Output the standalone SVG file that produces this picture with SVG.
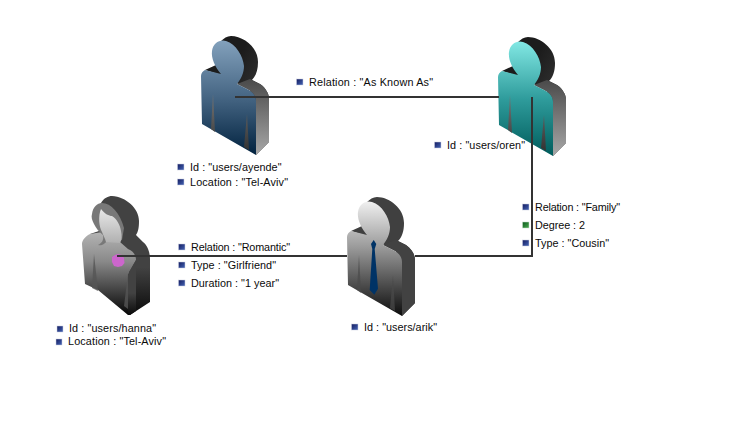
<svg xmlns="http://www.w3.org/2000/svg" width="746" height="446" viewBox="0 0 746 446">
<style>
text{font-family:"Liberation Sans",Arial,sans-serif;font-size:10.8px;fill:#0a0a0a}
.conn{fill:none;stroke:#333;stroke-width:2}
.b{fill:url(#gBlue);stroke:#c9cde0;stroke-width:.5}
.g{fill:url(#gGreen);stroke:#c9e0cd;stroke-width:.5}
</style>
<defs>
<linearGradient id="gBlue" x1="0" y1="0" x2="1" y2="1"><stop offset="0" stop-color="#141c60"/><stop offset="1" stop-color="#4464b4"/></linearGradient>
<linearGradient id="gGreen" x1="0" y1="0" x2="1" y2="1"><stop offset="0" stop-color="#0c5a1c"/><stop offset="1" stop-color="#4aa850"/></linearGradient>
<linearGradient id="gSide" x1="0" y1="0" x2="0" y2="1"><stop offset="0" stop-color="#4a4a4a"/><stop offset=".3" stop-color="#666"/><stop offset="1" stop-color="#a8a8a8"/></linearGradient>
<linearGradient id="gBack" x1="0" y1="0" x2="1" y2="1"><stop offset=".35" stop-color="#1c1c1c"/><stop offset="1" stop-color="#4a4a4a"/></linearGradient>
<linearGradient id="gSlit" x1="0" y1="0" x2="0" y2="1"><stop offset="0" stop-color="#777"/><stop offset="1" stop-color="#333"/></linearGradient>
<linearGradient id="gAyende" x1="0" y1="0" x2="0" y2="1"><stop offset="0" stop-color="#83a1bc"/><stop offset=".5" stop-color="#456583"/><stop offset="1" stop-color="#01223f"/></linearGradient>
<linearGradient id="gOren" x1="0" y1="0" x2="0" y2="1"><stop offset="0" stop-color="#82e8e4"/><stop offset=".5" stop-color="#2f9c9c"/><stop offset="1" stop-color="#005c5c"/></linearGradient>
<linearGradient id="gArik" x1="0" y1="0" x2="0" y2="1"><stop offset="0" stop-color="#f0f0f0"/><stop offset=".4" stop-color="#9a9a9a"/><stop offset="1" stop-color="#0c0c0c"/></linearGradient>
<linearGradient id="gHanna" x1="0" y1="0" x2="0" y2="1"><stop offset="0" stop-color="#b4b4b4"/><stop offset=".35" stop-color="#8a8a8a"/><stop offset="1" stop-color="#050505"/></linearGradient>
<linearGradient id="gFace" x1="0" y1="0" x2="0" y2="1"><stop offset="0" stop-color="#e8e8e8"/><stop offset="1" stop-color="#b0b0b0"/></linearGradient>
<linearGradient id="gHSide" x1="0" y1="0" x2="0" y2="1"><stop offset=".6" stop-color="#424242"/><stop offset="1" stop-color="#0a0a0a"/></linearGradient>
<path id="pBack" d="M205,70 L216,65 L222,68 L213,52 L220,42 C224,38 227,36 231,36 C243,36 258,47 258,62 C258,70 256,76 252,80 L260,84 C266,88 269,94 269,99 L269,142 L256,155 L250,90 L221,75Z"/>
<path id="pSide" d="M237,84 L250,79 L260,84 C266,88 269,94 269,99 L269,142 L256,155 L256,101 C256,96 253,92 247,89Z"/>
<path id="pFront" d="M201,76 C201,73 203,71 205,70 L221,74 C215,67 211,58 212,51 C213,43 220,39 226,41 C236,44 243,56 244,66 C244,73 241,79 237,84 L247,89 C253,92 256,96 256,101 L256,155 L202,124Z"/>
<path id="pSlits" d="M213,94 L211,129 L215,132Z M247,114 L244,147 L249,150Z"/>
</defs>

<g id="node-ayende">
<use href="#pBack" fill="url(#gBack)"/>
<use href="#pSide" fill="url(#gSide)"/>
<use href="#pFront" fill="url(#gAyende)"/>
<use href="#pSlits" fill="url(#gSlit)"/>
<rect class="b" x="177.500" y="164" width="6.500" height="6"/><text x="190" y="171" textLength="91.500">Id : "users/ayende"</text>
<rect class="b" x="177.500" y="179" width="6.500" height="6"/><text x="190" y="186" textLength="98">Location : "Tel-Aviv"</text>
</g>

<g id="node-oren">
<g transform="translate(297,1)">
<use href="#pBack" fill="url(#gBack)"/>
<use href="#pSide" fill="url(#gSide)"/>
<use href="#pFront" fill="url(#gOren)"/>
<use href="#pSlits" fill="url(#gSlit)"/>
</g>
<rect class="b" x="434.500" y="142" width="6.500" height="6"/><text x="447" y="149" textLength="78">Id : "users/oren"</text>
</g>

<g id="node-arik">
<g transform="translate(146,161)">
<use href="#pBack" fill="#404040"/>
<use href="#pSide" fill="#424242"/>
<use href="#pFront" fill="url(#gArik)"/>
<use href="#pSlits" fill="#4a4a4a" opacity=".7"/>
</g>
<path d="M373.700,240 L376.300,244 L374.700,249 L378,288.700 L374.300,294.700 L369.700,290 L372.300,249 L371,244Z" fill="#003366"/>
<rect class="b" x="351.500" y="324" width="6.500" height="6"/><text x="364" y="331" textLength="73">Id : "users/arik"</text>
</g>

<g id="node-hanna">
<path d="M90,234 L102,230 L94,212 L101,203 C104,198 108,196 112,196 C126,197 139,208 139,221 C139,228 138,232 136,235 L143,242 C148,246 150,253 150,259 L150,302 L130,315 L128,260 L100,240Z" fill="url(#gHSide)"/>
<path d="M82,244 C82,240 86,236 90,234 L102,232 L106,240 L120,242 L128,249 C133,251 136,255 136,260 L128,274 L128,315 L98,290 L85,284Z" fill="url(#gHanna)"/>
<path d="M128,274 L136,260 L136,311 L130,315 L128,315Z" fill="url(#gHSide)"/>
<path d="M94,254 L92,288 L98,291Z M128,274 L124,306 L128,309Z" fill="#555" opacity=".8"/>
<path d="M92,214 C93,207 97,203 102,203 C111,203 120,213 124,228 L122,240 L107,240 C106,244 101,246 98,245 C102,243 104,240 103,235 C99,232 96,228 94,224 C92,220 91,217 92,214Z" fill="#787878"/>
<path d="M101,209 C105,214 109,216 112,216 C117,219 120,225 121,231 C122,236 122,240 120,243 L106,242 C105,238 103,235 102,232 C99,227 98,216 101,209Z" fill="url(#gFace)"/>
<path d="M118,254 L122,255 L124,258 L124.500,263 L122,266 L118,267 L114,266 L112,262 L112,257 L115,255Z" fill="#cc66cc"/>
<rect class="b" x="57" y="326" width="6" height="6"/><text x="69" y="332" textLength="87">Id : "users/hanna"</text>
<rect class="b" x="56" y="339" width="6" height="6"/><text x="68" y="345" textLength="98">Location : "Tel-Aviv"</text>
</g>

<g id="connectors">
<path class="conn" d="M235,97 H499"/>
<path class="conn" d="M532,97 V256 H415"/>
<path class="conn" d="M117,256 H347"/>
</g>

<g id="label-known">
<rect class="b" x="296.500" y="79" width="6.500" height="6"/><text x="309" y="86" textLength="124">Relation : "As Known As"</text>
</g>
<g id="label-family">
<rect class="b" x="522.500" y="204" width="6.500" height="6"/><text x="535" y="211" textLength="85">Relation : "Family"</text>
<rect class="g" x="522.500" y="222" width="6.500" height="6"/><text x="535" y="229" textLength="50">Degree : 2</text>
<rect class="b" x="522.500" y="240" width="6.500" height="6"/><text x="535" y="247" textLength="74">Type : "Cousin"</text>
</g>
<g id="label-romantic">
<rect class="b" x="178.500" y="244" width="6.500" height="6"/><text x="191" y="251" textLength="99">Relation : "Romantic"</text>
<rect class="b" x="178.500" y="262" width="6.500" height="6"/><text x="191" y="269" textLength="85">Type : "Girlfriend"</text>
<rect class="b" x="178.500" y="280" width="6.500" height="6"/><text x="191" y="287" textLength="88">Duration : "1 year"</text>
</g>
</svg>
